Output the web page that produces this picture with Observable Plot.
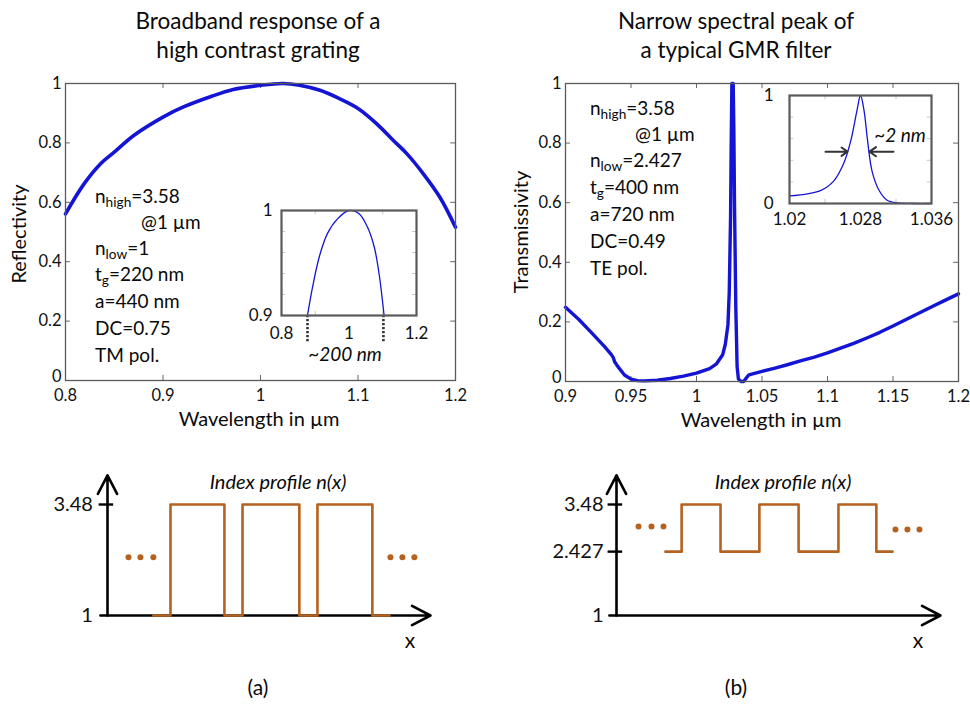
<!DOCTYPE html>
<html><head><meta charset="utf-8">
<script src="https://cdn.jsdelivr.net/npm/d3@7"></script>
<script src="https://cdn.jsdelivr.net/npm/@observablehq/plot@0.6"></script>
<style>
body{margin:0;background:#fff;}
#root{position:relative;width:970px;height:704px;overflow:hidden;font-family:Lato,"Open Sans",sans-serif;color:#0a0a0a;background:#fff;}
.abs{position:absolute;white-space:nowrap;line-height:1.2;}
.plot{position:absolute;overflow:visible;}
sub{font-size:0.72em;vertical-align:-0.35em;line-height:0;}
</style></head><body><div id="root"></div>
<script>
// ---------- data ----------
// (a) high contrast grating reflectivity, main plot
const reflWl = [0.800,0.819,0.836,0.850,0.870,0.900,0.921,0.950,0.972,1.000,1.023,1.040,1.061,1.081,1.100,1.119,1.136,1.150,1.167,1.184,1.200];
const reflR  = [0.561,0.662,0.730,0.769,0.825,0.887,0.921,0.957,0.980,0.994,1.000,0.994,0.977,0.949,0.916,0.865,0.809,0.764,0.696,0.617,0.516];
// (a) inset
const reflInsetWl = [0.877,0.892,0.912,0.936,0.966,1.000,1.030,1.055,1.075,1.089,1.104];
const reflInsetR  = [0.900,0.927,0.956,0.978,0.992,1.000,0.997,0.984,0.965,0.940,0.900];
const reflInsetMarks = [0.877,1.102];
// (b) GMR filter transmissivity, main plot
const transWl = [0.900,0.910,0.920,0.930,0.935,0.9365,0.9375,0.940,0.945,0.950,0.955,0.960,0.970,0.980,0.990,1.000,1.010,1.015,1.020,1.022,1.024,1.025,1.026,1.0265,1.027,1.028,1.0285,1.029,1.030,1.031,1.032,1.034,1.036,1.038,1.040,1.050,1.060,1.070,1.080,1.090,1.100,1.110,1.120,1.130,1.140,1.150,1.160,1.170,1.180,1.190,1.200];
const transT  = [0.249,0.209,0.163,0.116,0.090,0.080,0.066,0.050,0.022,0.008,0.003,0.002,0.004,0.010,0.018,0.028,0.043,0.058,0.090,0.125,0.190,0.300,0.550,0.800,1.000,1.000,0.850,0.600,0.250,0.050,0.008,0.000,0.000,0.012,0.022,0.034,0.045,0.057,0.070,0.082,0.096,0.112,0.128,0.146,0.165,0.186,0.208,0.230,0.252,0.273,0.294];
// (b) inset
const transInsetWl = [1.0200,1.0235,1.0250,1.0261,1.0269,1.0276,1.0280,1.0284,1.0288,1.0293,1.0301,1.0310,1.0322,1.0340,1.0360];
const transInsetT  = [0.07,0.12,0.21,0.37,0.58,0.86,1.00,0.86,0.58,0.30,0.12,0.03,0.005,0.0,0.0];
// FWHM arrows (x1, x2, y)
const fwhmArrowX1 = [1.02406,1.03172];
const fwhmArrowX2 = [1.02654,1.02901];
const fwhmArrowY = 0.48;
// index profiles (step edges, normalized position along x)
const profAx = [0.142,0.195,0.362,0.418,0.594,0.650,0.820,0.873];
const profAn = [1,3.48,1,3.48,1,3.48,1,1];
const profBx = [0.151,0.201,0.321,0.441,0.562,0.685,0.802,0.852];
const profBn = [2.427,3.48,2.427,3.48,2.427,3.48,2.427,2.427];
const dotsAx = [0.065,0.102,0.142,0.876,0.913,0.950];
const dotsAn = [2.30,2.30,2.30,2.30,2.30,2.30];
const dotsBx = [0.068,0.108,0.145,0.861,0.898,0.935];
const dotsBn = [2.99,2.99,2.99,2.92,2.92,2.92];
// tick labels
const reflXTicks = [0.8,0.9,1,1.1,1.2];
const transXTicks = [0.9,0.95,1,1.05,1.1,1.15,1.2];
const mainYTicks = [0,0.2,0.4,0.6,0.8,1];
const reflInsetXTicks = [0.8,1,1.2];
const reflInsetYTicks = [0.9,1];
const transInsetXTicks = [1.02,1.028,1.036];
const transInsetYTicks = [0,1];
const profATicks = [1,3.48];
const profBTicks = [1,2.427,3.48];

// ---------- helpers ----------
const root = document.getElementById("root");
const BLUE = "#1414d4", FRAME = "#5a5a5a", BROWN = "#b4621f", FONT = "Lato, 'Open Sans', sans-serif";
function place(svg, left, top){ svg.classList.add("plot"); svg.style.left = left+"px"; svg.style.top = top+"px"; root.appendChild(svg); }
function label(html, x, y, size, o = {}){
  const d = document.createElement("div"); d.className = "abs"; d.innerHTML = html;
  d.style.left = x+"px"; d.style.top = y+"px"; d.style.fontSize = size+"px";
  if (o.italic) d.style.fontStyle = "italic";
  const tx = o.anchor === "start" ? "0" : o.anchor === "end" ? "-100%" : "-50%";
  d.style.transform = `translate(${tx},-50%)` + (o.rotate ? ` rotate(${o.rotate}deg)` : "");
  d.style.transformOrigin = "50% 50%";
  root.appendChild(d); return d;
}
const zip = (xs, ys) => xs.map((x,i)=>({x, y: ys[i]}));
const fmt = d => String(d);

function innerTicks(xTicks, yTicks, xd, yd, lx, ly, stroke){
  return [
    Plot.ruleX(xTicks, {x: d=>d, y1: yd[0], y2: yd[0]+ly, stroke, strokeWidth: 1}),
    Plot.ruleX(xTicks, {x: d=>d, y1: yd[1], y2: yd[1]-ly, stroke, strokeWidth: 1}),
    Plot.ruleY(yTicks, {y: d=>d, x1: xd[0], x2: xd[0]+lx, stroke, strokeWidth: 1}),
    Plot.ruleY(yTicks, {y: d=>d, x1: xd[1], x2: xd[1]-lx, stroke, strokeWidth: 1})
  ];
}
function mainAxes(xTicks){
  return [
    Plot.axisX({ticks: xTicks, tickSize: 0, tickPadding: 9, tickFormat: fmt, label: null, fontSize: 16.5}),
    Plot.axisY({ticks: mainYTicks.filter(t=>t!==0), tickSize: 0, tickPadding: 4, tickFormat: fmt, label: null, fontSize: 16.5}),
    Plot.axisY({ticks: [0], tickSize: 0, tickPadding: 4, tickFormat: fmt, label: null, fontSize: 16.5, dy: -4})
  ];
}

// ---------- (a) main ----------
place(Plot.plot({
  width: 480, height: 430, marginLeft: 65, marginRight: 25, marginTop: 83, marginBottom: 50,
  style: {fontFamily: FONT, fontSize: "16.5px", color: "#111", background: "transparent"},
  x: {domain: [0.8,1.2]}, y: {domain: [0,1]},
  marks: [
    ...mainAxes(reflXTicks),
    ...innerTicks(reflXTicks, mainYTicks, [0.8,1.2], [0,1], 0.005, 0.017, "#666"),
    Plot.line(zip(reflWl, reflR), {x: "x", y: "y", stroke: BLUE, strokeWidth: 3.6, curve: "catmull-rom"}),
    Plot.frame({stroke: FRAME, strokeWidth: 1.3})
  ]
}), 0, 0);

// (a) inset
place(Plot.plot({
  width: 200, height: 170, marginLeft: 40, marginRight: 25, marginTop: 10, marginBottom: 55,
  style: {fontFamily: FONT, fontSize: "17px", color: "#111", background: "transparent"},
  x: {domain: [0.8,1.2]}, y: {domain: [0.9,1]},
  marks: [
    Plot.axisX({ticks: reflInsetXTicks, tickSize: 0, tickPadding: 11, tickFormat: fmt, label: null, fontSize: 17}),
    Plot.axisY({ticks: reflInsetYTicks, tickSize: 0, tickPadding: 9, tickFormat: fmt, label: null, fontSize: 17}),
    ...innerTicks([0.9,1.1], [0.92,0.94,0.96,0.98], [0.8,1.2], [0.9,1], 0.012, 0.004, "#c8c8c8"),
    Plot.ruleX(reflInsetMarks, {x: d=>d, y1: 0.9, y2: 0.9-0.025, stroke: "#333", strokeWidth: 2.6, strokeDasharray: "2.2,1.8"}),
    Plot.line(zip(reflInsetWl, reflInsetR), {x: "x", y: "y", stroke: BLUE, strokeWidth: 1.3, curve: "catmull-rom"}),
    Plot.frame({stroke: FRAME, strokeWidth: 2.2})
  ]
}), 241, 200);

// ---------- (b) main ----------
place(Plot.plot({
  width: 480, height: 430, marginLeft: 75, marginRight: 12, marginTop: 83, marginBottom: 49,
  style: {fontFamily: FONT, fontSize: "16.5px", color: "#111", background: "transparent"},
  x: {domain: [0.9,1.2]}, y: {domain: [0,1]},
  marks: [
    ...mainAxes(transXTicks),
    ...innerTicks(transXTicks, mainYTicks, [0.9,1.2], [0,1], 0.0038, 0.017, "#666"),
    Plot.line(zip(transWl, transT), {x: "x", y: "y", stroke: BLUE, strokeWidth: 3.4, curve: "linear"}),
    Plot.frame({stroke: FRAME, strokeWidth: 1.3})
  ]
}), 490, 0);

// (b) inset
place(Plot.plot({
  width: 200, height: 150, marginLeft: 40, marginRight: 18, marginTop: 10, marginBottom: 32,
  style: {fontFamily: FONT, fontSize: "17px", color: "#111", background: "transparent"},
  x: {domain: [1.02,1.036]}, y: {domain: [0,1]},
  marks: [
    Plot.axisX({ticks: transInsetXTicks, tickSize: 0, tickPadding: 9, tickFormat: fmt, label: null, fontSize: 17}),
    Plot.axisY({ticks: transInsetYTicks, tickSize: 0, tickPadding: 16, tickFormat: fmt, label: null, fontSize: 17}),
    ...innerTicks([1.024,1.032], [0.2,0.4,0.6,0.8], [1.02,1.036], [0,1], 0.0005, 0.04, "#c8c8c8"),
    Plot.line(zip(transInsetWl, transInsetT), {x: "x", y: "y", stroke: BLUE, strokeWidth: 1.3, curve: "catmull-rom"}),
    Plot.arrow(fwhmArrowX1.map((x,i)=>({x1: x, x2: fwhmArrowX2[i], y: fwhmArrowY})), {x1: "x1", x2: "x2", y1: "y", y2: "y", stroke: "#333", strokeWidth: 2, headLength: 9, headAngle: 70}),
    Plot.frame({stroke: FRAME, strokeWidth: 2.2})
  ]
}), 749, 85);

// ---------- index profiles ----------
function profile(xs, ns, dx, dn, ticks, marginLeft, marginRight, tickLabelX){
  return Plot.plot({
    width: 480, height: 200, marginLeft, marginRight, marginTop: 44, marginBottom: 45,
    style: {fontFamily: FONT, fontSize: "20px", color: "#111", background: "transparent"},
    x: {domain: [0,1], axis: null}, y: {domain: [1,3.48], axis: null},
    marks: [
      Plot.ruleY(ticks.filter(t=>t!==1), {y: d=>d, x1: -0.026, x2: 0.019, stroke: "#000", strokeWidth: 2.4}),
      Plot.text(ticks, {x: tickLabelX, y: d=>d, text: d=>String(d), textAnchor: "end", fontSize: 20, fill: "#111"}),
      Plot.arrow([{x1: -0.022, y1: 1, x2: 1, y2: 1}], {x1: "x1", y1: "y1", x2: "x2", y2: "y2", stroke: "#000", strokeWidth: 2.6, headLength: 12, headAngle: 55}),
      Plot.arrow([{x1: 0, y1: 1, x2: 0, y2: 4.13}], {x1: "x1", y1: "y1", x2: "x2", y2: "y2", stroke: "#000", strokeWidth: 2.6, headLength: 12, headAngle: 55}),
      Plot.line(zip(xs, ns), {x: "x", y: "y", curve: "step-after", stroke: BROWN, strokeWidth: 2.6}),
      Plot.dot(zip(dx, dn), {x: "x", y: "y", r: 3, fill: BROWN, stroke: "none"})
    ]
  });
}
place(profile(profAx, profAn, dotsAx, dotsAn, profATicks, 107, 50, -0.045), 0, 460);
place(profile(profBx, profBn, dotsBx, dotsBn, profBTicks, 126, 30, -0.04), 490, 460);

// ---------- text ----------
label("Broadband response of a", 258, 20, 22.5);
label("high contrast grating", 258, 49, 22.5);
label("Narrow spectral peak of", 736, 20, 22.5);
label("a typical GMR filter", 736, 49, 22.5);

label("Wavelength in µm", 259, 418, 20);
label("Wavelength in µm", 761, 419, 20);
label("Reflectivity", 18, 234, 20, {rotate: -90});
label("Transmissivity", 520, 232, 20, {rotate: -90});

const paramsA = ["n<sub>high</sub>=3.58", null, "n<sub>low</sub>=1", "t<sub>g</sub>=220 nm", "a=440 nm", "DC=0.75", "TM pol."];
const paramsAy = [196, 222, 248, 274, 301, 328, 355];
paramsA.forEach((t,i)=>{ if (t) label(t, 95, paramsAy[i], 19, {anchor: "start"}); });
label("@1 µm", 141, 222, 19, {anchor: "start"});

const paramsB = ["n<sub>high</sub>=3.58", null, "n<sub>low</sub>=2.427", "t<sub>g</sub>=400 nm", "a=720 nm", "DC=0.49", "TE pol."];
const paramsBy = [108, 134, 160, 187, 214, 241, 268];
paramsB.forEach((t,i)=>{ if (t) label(t, 590, paramsBy[i], 19, {anchor: "start"}); });
label("@1 µm", 635, 134, 19, {anchor: "start"});

label("~200 nm", 345, 354, 19, {italic: true});
label("~2 nm", 900, 135, 19, {italic: true});

label("Index profile n(x)", 278, 481, 20, {italic: true});
label("Index profile n(x)", 783, 481, 20, {italic: true});
label("x", 410, 640, 21);
label("x", 918, 640, 21);
label("(a)", 258, 687, 21);
label("(b)", 736, 687, 21);
</script></body></html>
